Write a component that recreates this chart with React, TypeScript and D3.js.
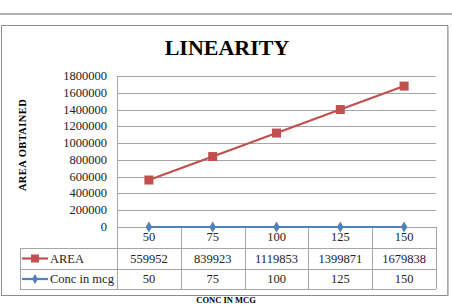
import * as d3 from 'd3';
import React, { useRef, useEffect } from 'react';

const categories = ['50', '75', '100', '125', '150'];
const areaValues = [559952, 839923, 1119853, 1399871, 1679838];
const concValues = [50, 75, 100, 125, 150];
const yTicks = [0, 200000, 400000, 600000, 800000, 1000000, 1200000, 1400000, 1600000, 1800000];

const series = [
  { name: 'AREA', values: areaValues, color: '#C0504D', marker: 'square' },
  { name: 'Conc in mcg', values: concValues, color: '#4F81BD', marker: 'diamond' },
];

const App = () => {
  const svgRef = useRef(null);
  const width = 452;
  const height = 306;

  useEffect(() => {
    if (!svgRef.current) return;
    const svg = d3.select(svgRef.current);
    svg.selectAll('*').remove();
    const font = '"Liberation Serif", "Times New Roman", serif';
    const fs = 12.5;

    // page header line
    svg.append('line')
      .attr('x1', 0).attr('x2', width).attr('y1', 14).attr('y2', 14)
      .attr('stroke', '#666').attr('stroke-width', 1);

    // chart frame
    svg.append('rect')
      .attr('x', 1.5).attr('y', 25.5).attr('width', 446).attr('height', 270)
      .attr('fill', '#fff').attr('stroke', '#8c8c8c').attr('stroke-width', 1);
    svg.append('line')
      .attr('x1', 448).attr('x2', 448).attr('y1', 26).attr('y2', 296)
      .attr('stroke', '#b0b0b0').attr('stroke-width', 1.5);

    svg.append('text')
      .attr('x', 227).attr('y', 55)
      .attr('text-anchor', 'middle')
      .attr('font-family', font).attr('font-weight', 'bold').attr('font-size', 22)
      .text('LINEARITY');

    const left = 117, right = 436, top = 76, bottom = 227;
    const x = d3.scaleBand().domain(categories).range([left, right]);
    const y = d3.scaleLinear().domain([0, 1800000]).range([bottom, top]);

    // gridlines
    svg.append('g').selectAll('line').data(yTicks).enter().append('line')
      .attr('x1', left).attr('x2', right)
      .attr('y1', (d) => Math.round(y(d)) + 0.5).attr('y2', (d) => Math.round(y(d)) + 0.5)
      .attr('stroke', '#a6a6a6').attr('stroke-width', 1);

    svg.append('g').selectAll('text').data(yTicks).enter().append('text')
      .attr('x', 107).attr('y', (d) => y(d) + 4)
      .attr('text-anchor', 'end')
      .attr('font-family', font).attr('font-size', fs).attr('fill', '#222')
      .text((d) => d3.format('d')(d));

    // table geometry
    const tableLeft = 20, row1 = 248, row2 = 269, row3 = 289;
    const lineColor = '#a6a6a6';
    const grid = svg.append('g').attr('stroke', lineColor).attr('stroke-width', 1);
    grid.append('line').attr('x1', left + 0.5).attr('x2', left + 0.5).attr('y1', top).attr('y2', row3);
    categories.forEach((c) => {
      const xr = Math.round((x(c) as number) + x.bandwidth()) + 0.5;
      grid.append('line').attr('x1', xr).attr('x2', xr).attr('y1', bottom).attr('y2', row3);
    });
    [row1, row2, row3].forEach((r) => {
      grid.append('line').attr('x1', tableLeft).attr('x2', right).attr('y1', r + 0.5).attr('y2', r + 0.5);
    });
    grid.append('line').attr('x1', tableLeft + 0.5).attr('x2', tableLeft + 0.5).attr('y1', row1).attr('y2', row3);

    // category labels
    svg.append('g').selectAll('text').data(categories).enter().append('text')
      .attr('x', (d) => (x(d) as number) + x.bandwidth() / 2).attr('y', 241)
      .attr('text-anchor', 'middle')
      .attr('font-family', font).attr('font-size', fs).attr('fill', '#222')
      .text((d) => d);

    const cx = (i: number) => (x(categories[i]) as number) + x.bandwidth() / 2;

    series.forEach((s, si) => {
      const g = svg.append('g');
      const line = d3.line<number>().x((d, i) => cx(i)).y((d) => y(d));
      g.append('path').datum(s.values)
        .attr('d', line).attr('fill', 'none')
        .attr('stroke', s.color).attr('stroke-width', 2.2);
      if (s.marker === 'square') {
        g.selectAll('rect').data(s.values).enter().append('rect')
          .attr('x', (d, i) => cx(i) - 4.5).attr('y', (d) => y(d) - 4.5)
          .attr('width', 9).attr('height', 9).attr('fill', s.color);
      } else {
        g.selectAll('path.m').data(s.values).enter().append('path')
          .attr('class', 'm')
          .attr('d', d3.symbol(d3.symbolDiamond, 36))
          .attr('transform', (d, i) => `translate(${cx(i)},${y(d)})`)
          .attr('fill', s.color);
      }

      // table row
      const rowY = si === 0 ? (row1 + row2) / 2 : (row2 + row3) / 2;
      g.append('line').attr('x1', 22).attr('x2', 48).attr('y1', rowY).attr('y2', rowY)
        .attr('stroke', s.color).attr('stroke-width', 2.2);
      if (s.marker === 'square') {
        g.append('rect').attr('x', 35 - 4).attr('y', rowY - 4).attr('width', 8).attr('height', 8).attr('fill', s.color);
      } else {
        g.append('path').attr('d', d3.symbol(d3.symbolDiamond, 30))
          .attr('transform', `translate(35,${rowY})`).attr('fill', s.color);
      }
      g.append('text').attr('x', 50).attr('y', rowY + 4)
        .attr('font-family', font).attr('font-size', fs).attr('fill', '#222')
        .text(s.name);
      g.selectAll('text.v').data(s.values).enter().append('text')
        .attr('class', 'v')
        .attr('x', (d, i) => cx(i)).attr('y', rowY + 4)
        .attr('text-anchor', 'middle')
        .attr('font-family', font).attr('font-size', fs).attr('fill', '#222')
        .text((d) => String(d));
    });

    svg.append('text')
      .attr('x', 226).attr('y', 303)
      .attr('text-anchor', 'middle')
      .attr('font-family', font).attr('font-weight', 'bold').attr('font-size', 8.5)
      .text('CONC IN MCG');

    svg.append('text')
      .attr('transform', 'translate(26,145) rotate(-90)')
      .attr('text-anchor', 'middle')
      .attr('font-family', font).attr('font-weight', 'bold').attr('font-size', 10.5)
      .attr('letter-spacing', 0.4)
      .text('AREA OBTAINED');
  }, []);

  return (
    <svg ref={svgRef} width={width} height={height}
      style={{ position: 'absolute', left: 0, top: 0, background: '#fff' }} />
  );
};

export default App;
